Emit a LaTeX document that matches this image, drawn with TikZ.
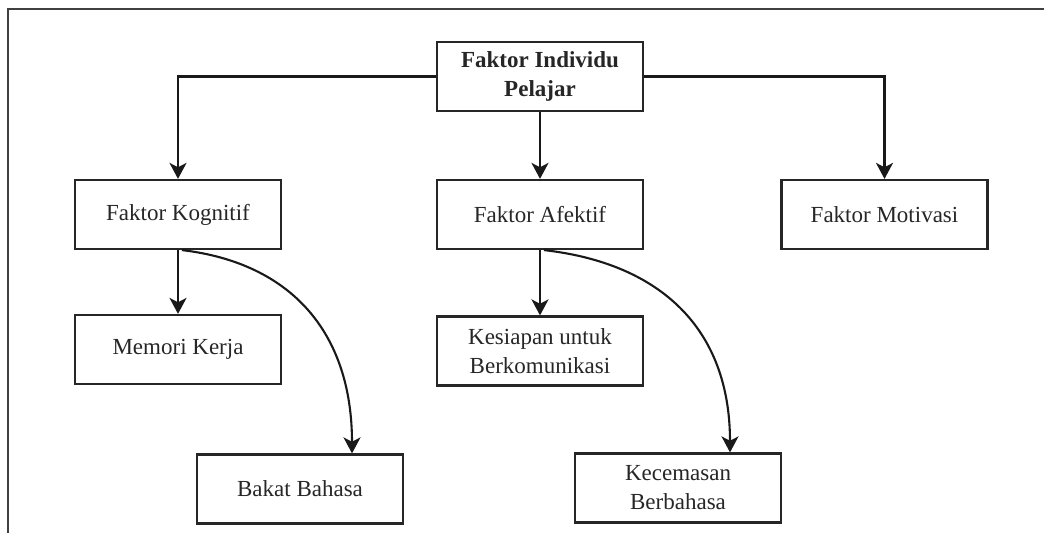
\documentclass[tikz,border=0pt]{standalone}
\usepackage{fontspec}
\setmainfont{Liberation Serif}
\usetikzlibrary{arrows.meta}
\begin{document}
\begin{tikzpicture}[x=0.5pt,y=-0.5pt,
  box/.style={draw=black!85,line width=1.1pt,minimum width=103pt,minimum height=34.5pt,
    inner sep=0pt,align=center,font=\fontsize{11.5}{14.5}\selectfont,text=black!85},
  conn/.style={draw=black!90,line width=1.05pt,-{Stealth[length=8pt,width=8.5pt,inset=2.2pt]}},
  frame/.style={draw=black!75,line width=1pt}]
\useasboundingbox (0,0) rectangle (1044,533);
\draw[frame] (8,533) -- (8,9) -- (1044,9);
\node[box,font=\bfseries\fontsize{11.5}{14.5}\selectfont] (top) at (540,76.5) {Faktor Individu\\Pelajar};
\node[box] (kog) at (178,214.5) {Faktor Kognitif};
\node[box] (afe) at (540,214.5) {Faktor Afektif};
\node[box] (mot) at (884.5,214.5) {Faktor Motivasi};
\node[box] (mem) at (178,349.5) {Memori Kerja};
\node[box] (kes) at (540,351) {Kesiapan untuk\\Berkomunikasi};
\node[box] (bak) at (300,489) {Bakat Bahasa};
\node[box] (kec) at (678,488) {Kecemasan\\Berbahasa};
\draw[conn] (top.west) -| (kog.north);
\draw[conn] (top.east) -| (mot.north);
\draw[conn] (top.south) -- (afe.north);
\draw[conn] (kog.south) -- (mem.north);
\draw[conn] (afe.south) -- (kes.north);
\draw[conn] ([xshift=2pt]kog.south) .. controls +(110,13) and +(0,-120) .. ([xshift=26pt]bak.north);
\draw[conn] ([xshift=2pt]afe.south) .. controls +(115,13) and +(0,-125) .. ([xshift=26pt]kec.north);
\end{tikzpicture}
\end{document}
